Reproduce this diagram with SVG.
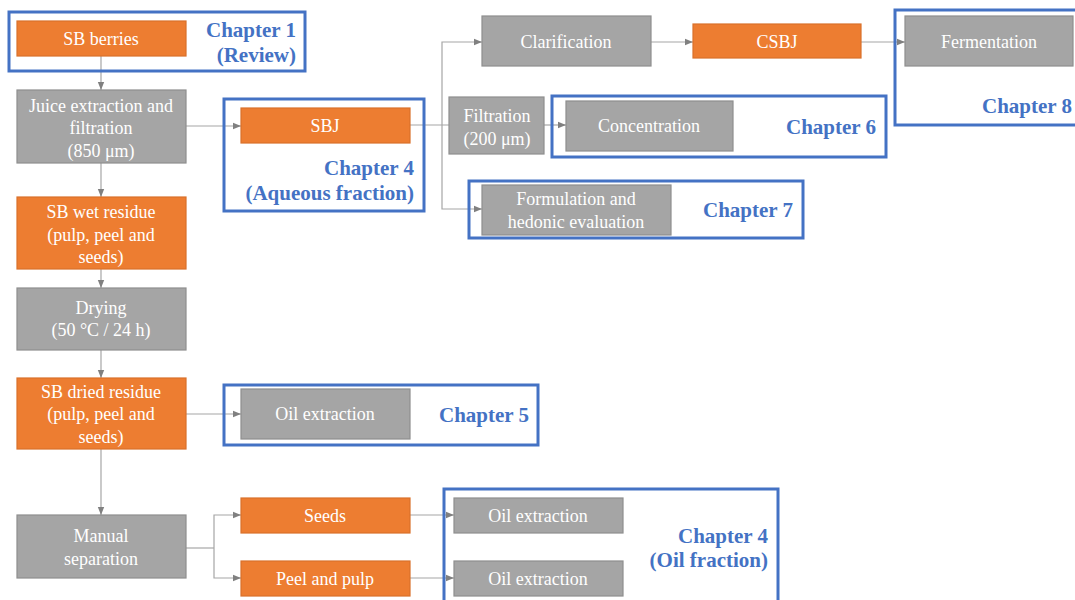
<svg xmlns="http://www.w3.org/2000/svg" width="1075" height="600" viewBox="0 0 1075 600">
<style>
.o{fill:#ED7D31;stroke:#D9712B;stroke-width:1.2}
.g{fill:#A5A5A5;stroke:#8E8E8E;stroke-width:1.2}
.t{font-size:18px;fill:#FFFFFF;text-anchor:middle}
.ch{fill:none;stroke:#4472C4;stroke-width:3}
.cl{font-size:21px;font-weight:bold;fill:#4472C4;text-anchor:end}
.c{fill:none;stroke:#A6A6A6;stroke-width:1.2}
</style>
<defs>
<marker id="ah" viewBox="0 0 10 10" refX="10" refY="5" markerWidth="8" markerHeight="8" markerUnits="userSpaceOnUse" orient="auto">
<path d="M0,1 L10,5 L0,9 z" fill="#808080"/>
</marker>
</defs>
<rect width="1075" height="600" fill="#FFFFFF"/>
<g id="connectors">
<path class="c" d="M101,56 V90" marker-end="url(#ah)"/>
<path class="c" d="M186,126 H241" marker-end="url(#ah)"/>
<path class="c" d="M410,125 H449"/>
<path class="c" d="M442,125 V42 H482" marker-end="url(#ah)"/>
<path class="c" d="M442,125 V209 H482" marker-end="url(#ah)"/>
<path class="c" d="M544,125 H566" marker-end="url(#ah)"/>
<path class="c" d="M651,42 H693" marker-end="url(#ah)"/>
<path class="c" d="M861,42 H905" marker-end="url(#ah)"/>
<path class="c" d="M101,163 V197" marker-end="url(#ah)"/>
<path class="c" d="M101,269 V288" marker-end="url(#ah)"/>
<path class="c" d="M101,350 V378" marker-end="url(#ah)"/>
<path class="c" d="M186,414 H241" marker-end="url(#ah)"/>
<path class="c" d="M101,449 V515" marker-end="url(#ah)"/>
<path class="c" d="M186,548 H214"/>
<path class="c" d="M214,548 V515 H241" marker-end="url(#ah)"/>
<path class="c" d="M214,548 V578 H241" marker-end="url(#ah)"/>
<path class="c" d="M410,515 H454" marker-end="url(#ah)"/>
<path class="c" d="M410,578 H454" marker-end="url(#ah)"/>
</g>
<g font-family="'Liberation Serif', 'Times New Roman', Times, 'DejaVu Serif', serif">
<g id="chapter1">
<rect class="ch" x="9" y="12" width="296" height="59"/>
<text class="cl" x="296" y="37">Chapter 1</text>
<text class="cl" x="296" y="62">(Review)</text>
</g>
<g id="sb-berries">
<rect class="o" x="17" y="21" width="169" height="35"/>
<text class="t" x="101" y="45">SB berries</text>
</g>
<g id="juice-extraction">
<rect class="g" x="17" y="90" width="169" height="73"/>
<text class="t" x="101" y="112">Juice extraction and</text>
<text class="t" x="101" y="134">filtration</text>
<text class="t" x="101" y="157">(850 μm)</text>
</g>
<g id="chapter4-aqueous">
<rect class="ch" x="224" y="99" width="200" height="112"/>
<text class="cl" x="414" y="175">Chapter 4</text>
<text class="cl" x="414" y="200">(Aqueous fraction)</text>
</g>
<g id="sbj">
<rect class="o" x="241" y="108" width="169" height="35"/>
<text class="t" x="325" y="132">SBJ</text>
</g>
<g id="clarification">
<rect class="g" x="482" y="16" width="169" height="50"/>
<text class="t" x="566" y="48">Clarification</text>
</g>
<g id="csbj">
<rect class="o" x="693" y="24" width="168" height="34"/>
<text class="t" x="777" y="48">CSBJ</text>
</g>
<g id="chapter8">
<rect class="ch" x="895" y="10" width="185" height="115"/>
<text class="cl" x="1072" y="113">Chapter 8</text>
</g>
<g id="fermentation">
<rect class="g" x="905" y="16" width="168" height="50"/>
<text class="t" x="989" y="48">Fermentation</text>
</g>
<g id="filtration">
<rect class="g" x="449" y="97" width="95" height="57"/>
<text class="t" x="497" y="122">Filtration</text>
<text class="t" x="497" y="145">(200 μm)</text>
</g>
<g id="chapter6">
<rect class="ch" x="552" y="96" width="334" height="61"/>
<text class="cl" x="876" y="134">Chapter 6</text>
</g>
<g id="concentration">
<rect class="g" x="566" y="101" width="167" height="50"/>
<text class="t" x="649" y="132">Concentration</text>
</g>
<g id="chapter7">
<rect class="ch" x="469" y="181" width="334" height="57"/>
<text class="cl" x="793" y="217">Chapter 7</text>
</g>
<g id="formulation">
<rect class="g" x="482" y="185" width="189" height="50"/>
<text class="t" x="576" y="205">Formulation and</text>
<text class="t" x="576" y="228">hedonic evaluation</text>
</g>
<g id="wet-residue">
<rect class="o" x="17" y="197" width="169" height="72"/>
<text class="t" x="101" y="218">SB wet residue</text>
<text class="t" x="101" y="241">(pulp, peel and</text>
<text class="t" x="101" y="263">seeds)</text>
</g>
<g id="drying">
<rect class="g" x="17" y="288" width="169" height="62"/>
<text class="t" x="101" y="314">Drying</text>
<text class="t" x="101" y="336">(50 °C / 24 h)</text>
</g>
<g id="dried-residue">
<rect class="o" x="17" y="378" width="169" height="71"/>
<text class="t" x="101" y="398">SB dried residue</text>
<text class="t" x="101" y="420">(pulp, peel and</text>
<text class="t" x="101" y="443">seeds)</text>
</g>
<g id="chapter5">
<rect class="ch" x="224" y="385" width="314" height="60"/>
<text class="cl" x="529" y="422">Chapter 5</text>
</g>
<g id="oil-extraction-5">
<rect class="g" x="241" y="389" width="169" height="50"/>
<text class="t" x="325" y="420">Oil extraction</text>
</g>
<g id="manual-separation">
<rect class="g" x="17" y="515" width="169" height="63"/>
<text class="t" x="101" y="542">Manual</text>
<text class="t" x="101" y="565">separation</text>
</g>
<g id="seeds">
<rect class="o" x="241" y="498" width="169" height="35"/>
<text class="t" x="325" y="522">Seeds</text>
</g>
<g id="peel-pulp">
<rect class="o" x="241" y="561" width="169" height="35"/>
<text class="t" x="325" y="585">Peel and pulp</text>
</g>
<g id="chapter4-oil">
<rect class="ch" x="444" y="489" width="334" height="120"/>
<text class="cl" x="768" y="543">Chapter 4</text>
<text class="cl" x="768" y="567">(Oil fraction)</text>
</g>
<g id="oil-extraction-seeds">
<rect class="g" x="454" y="498" width="169" height="35"/>
<text class="t" x="538" y="522">Oil extraction</text>
</g>
<g id="oil-extraction-peel">
<rect class="g" x="454" y="561" width="169" height="35"/>
<text class="t" x="538" y="585">Oil extraction</text>
</g>
</g>
</svg>
